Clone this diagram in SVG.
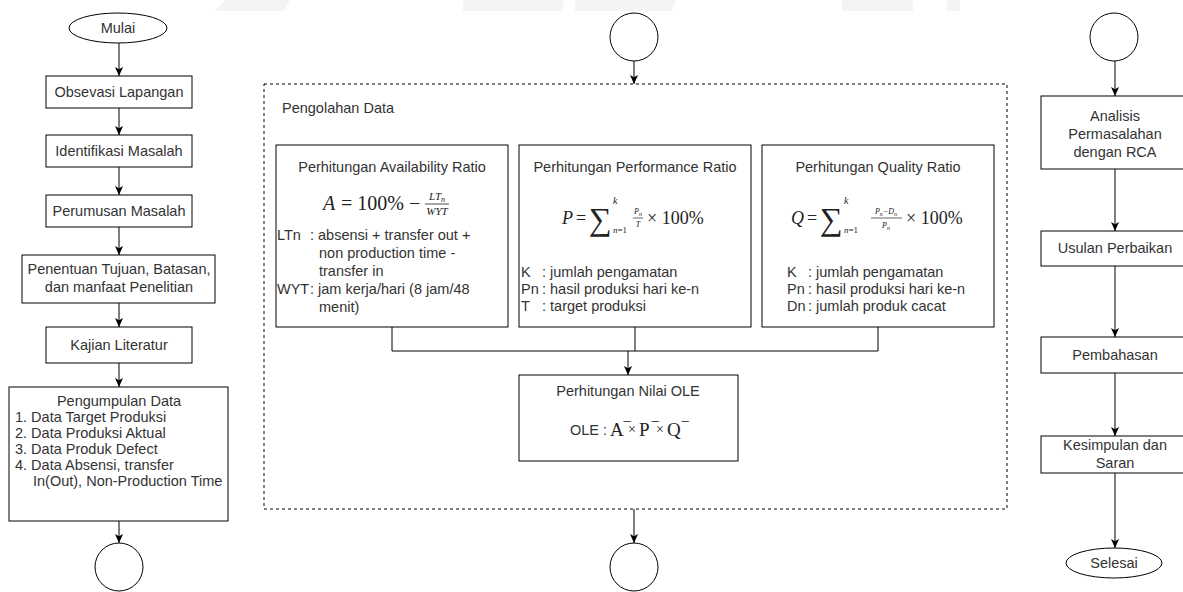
<svg xmlns="http://www.w3.org/2000/svg" width="1183" height="592" viewBox="0 0 1183 592">
  <style>
    .box { fill: #ffffff; stroke: #000000; stroke-width: 1; }
    .dash { fill: none; stroke: #000000; stroke-width: 1; stroke-dasharray: 3 3; }
    .edge { fill: none; stroke: #000000; stroke-width: 1; }
    .t { font-family: "Liberation Sans", Arial, sans-serif; font-size: 14.5px; fill: #333333; }
    .c { text-anchor: middle; }
    .m { font-family: "Liberation Serif", "DejaVu Serif", serif; fill: #222222; }
    .i { font-style: italic; }
    .wm { fill: #f4f4f4; }
  </style>
  <defs>
    <marker id="arrow" viewBox="0 0 10 10" refX="10" refY="5" markerWidth="9" markerHeight="9" orient="auto" markerUnits="userSpaceOnUse">
      <path d="M0,0.5 L10,5 L0,9.5 L2.5,5 Z" fill="#000000"/>
    </marker>
  </defs>

  <rect x="0" y="0" width="1183" height="592" fill="#ffffff"/>

  <!-- faint background watermark band -->
  <g id="watermark">
    <polygon class="wm" points="214,11 226,0 290,0 284,11"/>
    <polygon class="wm" points="463,0 563,0 563,11 463,11"/>
    <polygon class="wm" points="575,0 676,0 672,11 575,11"/>
    <polygon class="wm" points="842,0 913,0 913,11 842,11"/>
    <polygon class="wm" points="947,0 960,0 960,11 947,11"/>
  </g>

  <!-- connectors -->
  <g id="connectors">
    <!-- left column -->
    <path class="edge" d="M119,43 V76" marker-end="url(#arrow)"/>
    <path class="edge" d="M119,108 V135" marker-end="url(#arrow)"/>
    <path class="edge" d="M119,167 V195" marker-end="url(#arrow)"/>
    <path class="edge" d="M119,227 V255" marker-end="url(#arrow)"/>
    <path class="edge" d="M119,303 V327" marker-end="url(#arrow)"/>
    <path class="edge" d="M119,363 V387" marker-end="url(#arrow)"/>
    <path class="edge" d="M119,521 V543" marker-end="url(#arrow)"/>
    <!-- middle column -->
    <path class="edge" d="M634,61 V84" marker-end="url(#arrow)"/>
    <path class="edge" d="M392,327 V351 H878 V327"/>
    <path class="edge" d="M635,327 V351"/>
    <path class="edge" d="M628,351 V375" marker-end="url(#arrow)"/>
    <path class="edge" d="M634,509 V543" marker-end="url(#arrow)"/>
    <!-- right column -->
    <path class="edge" d="M1115,61 V96" marker-end="url(#arrow)"/>
    <path class="edge" d="M1115,169 V231" marker-end="url(#arrow)"/>
    <path class="edge" d="M1115,266 V337" marker-end="url(#arrow)"/>
    <path class="edge" d="M1115,373 V436" marker-end="url(#arrow)"/>
    <path class="edge" d="M1115,473 V548" marker-end="url(#arrow)"/>
  </g>

  <!-- left column -->
  <g id="mulai">
    <ellipse class="box" cx="118" cy="28" rx="49" ry="15"/>
    <text class="t c" x="118" y="33">Mulai</text>
  </g>
  <g id="observasi">
    <rect class="box" x="46" y="76" width="146" height="32"/>
    <text class="t c" x="119" y="97">Obsevasi Lapangan</text>
  </g>
  <g id="identifikasi">
    <rect class="box" x="46" y="135" width="146" height="32"/>
    <text class="t c" x="119" y="156">Identifikasi Masalah</text>
  </g>
  <g id="perumusan">
    <rect class="box" x="46" y="195" width="146" height="32"/>
    <text class="t c" x="119" y="216">Perumusan Masalah</text>
  </g>
  <g id="penentuan">
    <rect class="box" x="22" y="255" width="193" height="48"/>
    <text class="t c" x="119" y="274">Penentuan Tujuan, Batasan,</text>
    <text class="t c" x="119" y="292">dan manfaat Penelitian</text>
  </g>
  <g id="kajian">
    <rect class="box" x="46" y="327" width="146" height="36"/>
    <text class="t c" x="119" y="350">Kajian Literatur</text>
  </g>
  <g id="pengumpulan">
    <rect class="box" x="9" y="387" width="219" height="134"/>
    <text class="t c" x="119" y="406">Pengumpulan Data</text>
    <text class="t" x="15" y="422">1. Data Target Produksi</text>
    <text class="t" x="15" y="438">2. Data Produksi Aktual</text>
    <text class="t" x="15" y="454">3. Data Produk Defect</text>
    <text class="t" x="15" y="470">4. Data Absensi, transfer</text>
    <text class="t" x="33" y="486">In(Out), Non-Production Time</text>
  </g>
  <g id="connector-a-out">
    <circle class="box" cx="119" cy="567" r="24"/>
  </g>

  <!-- middle column -->
  <g id="connector-a-in">
    <circle class="box" cx="634" cy="37" r="24"/>
  </g>
  <g id="pengolahan">
    <rect class="dash" x="264" y="84" width="743" height="425"/>
    <text class="t" x="282" y="113">Pengolahan Data</text>
  </g>

  <g id="availability">
    <rect class="box" x="276" y="145" width="232" height="182"/>
    <text class="t c" x="392" y="172">Perhitungan Availability Ratio</text>
    <text class="m" font-size="20" y="210"><tspan x="323" class="i">A</tspan><tspan x="341">= 100% −</tspan></text>
    <line x1="425" y1="204" x2="449" y2="204" stroke="#222222" stroke-width="0.8"/>
    <text class="m i c" font-size="11" x="437" y="200">LT<tspan font-size="8" dy="2">n</tspan></text>
    <text class="m i c" font-size="11" x="437" y="215">WYT</text>
    <text class="t" x="277" y="240">LTn</text>
    <text class="t" x="310" y="240">: absensi + transfer out +</text>
    <text class="t" x="319" y="258">non production time -</text>
    <text class="t" x="319" y="276">transfer in</text>
    <text class="t" x="277" y="294">WYT</text>
    <text class="t" x="310" y="294">: jam kerja/hari (8 jam/48</text>
    <text class="t" x="319" y="312">menit)</text>
  </g>

  <g id="performance">
    <rect class="box" x="519" y="145" width="232" height="182"/>
    <text class="t c" x="635" y="172">Perhitungan Performance Ratio</text>
    <text class="m i" font-size="18" x="562" y="224">P</text>
    <text class="m" font-size="18" x="576" y="224">=</text>
    <text class="m" font-size="32" x="589" y="230">∑</text>
    <text class="m i" font-size="10" x="613" y="204">k</text>
    <text class="m" font-size="9" x="613" y="233"><tspan class="i">n</tspan>=1</text>
    <line x1="633" y1="218" x2="643" y2="218" stroke="#222222" stroke-width="0.7"/>
    <text class="m i c" font-size="8" x="638" y="214">P<tspan font-size="6" dy="1.5">n</tspan></text>
    <text class="m i c" font-size="8" x="638" y="227">T</text>
    <text class="m" font-size="18" x="647" y="224">× 100%</text>
    <text class="t" x="521" y="277">K</text>
    <text class="t" x="542" y="277">: jumlah pengamatan</text>
    <text class="t" x="521" y="294">Pn</text>
    <text class="t" x="542" y="294">: hasil produksi hari ke-n</text>
    <text class="t" x="521" y="311">T</text>
    <text class="t" x="542" y="311">: target produksi</text>
  </g>

  <g id="quality">
    <rect class="box" x="762" y="145" width="232" height="182"/>
    <text class="t c" x="878" y="172">Perhitungan Quality Ratio</text>
    <text class="m i" font-size="18" x="791" y="224">Q</text>
    <text class="m" font-size="18" x="807" y="224">=</text>
    <text class="m" font-size="32" x="820" y="230">∑</text>
    <text class="m i" font-size="10" x="844" y="204">k</text>
    <text class="m" font-size="9" x="844" y="233"><tspan class="i">n</tspan>=1</text>
    <line x1="871" y1="218" x2="902" y2="218" stroke="#222222" stroke-width="0.7"/>
    <text class="m i c" font-size="8" x="886" y="214">P<tspan font-size="6" dy="1.5">n</tspan><tspan dy="-1.5">−D</tspan><tspan font-size="6" dy="1.5">n</tspan></text>
    <text class="m i c" font-size="8" x="886" y="228">P<tspan font-size="6" dy="1.5">n</tspan></text>
    <text class="m" font-size="18" x="906" y="224">× 100%</text>
    <text class="t" x="787" y="277">K</text>
    <text class="t" x="808" y="277">: jumlah pengamatan</text>
    <text class="t" x="787" y="294">Pn</text>
    <text class="t" x="808" y="294">: hasil produksi hari ke-n</text>
    <text class="t" x="787" y="311">Dn</text>
    <text class="t" x="808" y="311">: jumlah produk cacat</text>
  </g>

  <g id="ole">
    <rect class="box" x="519" y="375" width="219" height="86"/>
    <text class="t c" x="628" y="396">Perhitungan Nilai OLE</text>
    <text class="t" x="570" y="435">OLE :</text>
    <text class="m" font-size="19" y="436"><tspan x="610">A</tspan><tspan x="639">P</tspan><tspan x="667">Q</tspan></text>
    <text class="m" font-size="19" y="436"><tspan x="624">‾</tspan><tspan x="652">‾</tspan><tspan x="682">‾</tspan></text>
    <text class="m" font-size="14" y="434"><tspan x="628">×</tspan><tspan x="656">×</tspan></text>
  </g>

  <g id="connector-b-out">
    <circle class="box" cx="634" cy="567" r="24"/>
  </g>

  <!-- right column -->
  <g id="connector-b-in">
    <circle class="box" cx="1114" cy="37" r="24"/>
  </g>
  <g id="analisis">
    <rect class="box" x="1041" y="96" width="148" height="73"/>
    <text class="t c" x="1115" y="121">Analisis</text>
    <text class="t c" x="1115" y="139">Permasalahan</text>
    <text class="t c" x="1115" y="157">dengan RCA</text>
  </g>
  <g id="usulan">
    <rect class="box" x="1041" y="231" width="148" height="35"/>
    <text class="t c" x="1115" y="253">Usulan Perbaikan</text>
  </g>
  <g id="pembahasan">
    <rect class="box" x="1041" y="337" width="148" height="36"/>
    <text class="t c" x="1115" y="360">Pembahasan</text>
  </g>
  <g id="kesimpulan">
    <rect class="box" x="1041" y="436" width="148" height="37"/>
    <text class="t c" x="1115" y="450">Kesimpulan dan</text>
    <text class="t c" x="1115" y="468">Saran</text>
  </g>
  <g id="selesai">
    <ellipse class="box" cx="1114" cy="563" rx="48" ry="15"/>
    <text class="t c" x="1114" y="568">Selesai</text>
  </g>
</svg>
